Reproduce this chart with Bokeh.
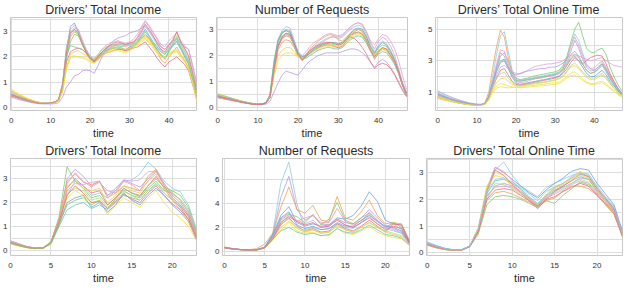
from bokeh.plotting import figure
from bokeh.layouts import column, row
from bokeh.models import SingleIntervalTicker, FixedTicker, Range1d
from bokeh.embed import file_html
from bokeh.resources import INLINE

t48 = list(range(48))
t24 = list(range(24))

# ---------------- Top-left: Drivers' Total Income (48 slots) ----------------
inc48_pink = [0.55,0.48,0.42,0.36,0.3,0.25,0.21,0.18,0.16,0.16,0.18,0.2,0.3,0.9,2.2,3.1,3.25,3.05,2.6,2.2,1.95,1.9,2.05,2.2,2.3,2.4,2.45,2.5,2.45,2.4,2.5,2.55,2.8,3.1,3.4,3.2,2.95,2.7,2.4,2.3,2.5,2.7,3.0,2.6,2.3,2.0,1.3,0.6]
inc48_blue = [0.5,0.44,0.38,0.33,0.28,0.24,0.2,0.17,0.15,0.15,0.17,0.19,0.28,0.8,2.3,3.2,3.35,3.0,2.55,2.25,2.0,1.85,2.0,2.15,2.25,2.3,2.35,2.4,2.35,2.3,2.4,2.45,2.6,2.85,3.1,2.85,2.6,2.4,2.2,2.1,2.3,2.45,2.6,2.3,2.0,1.7,1.1,0.7]
inc48_orange = [0.45,0.4,0.35,0.3,0.26,0.22,0.19,0.16,0.15,0.15,0.16,0.18,0.25,0.7,1.9,2.8,3.0,2.9,2.5,2.15,1.9,1.75,1.9,2.1,2.25,2.35,2.4,2.5,2.55,2.5,2.55,2.6,2.7,2.75,2.85,2.7,2.5,2.2,1.9,1.75,2.0,2.2,2.4,2.1,1.85,1.5,1.0,0.45]
inc48_yellow = [0.72,0.62,0.52,0.44,0.36,0.3,0.24,0.2,0.17,0.16,0.17,0.2,0.26,0.6,1.5,2.0,2.05,2.0,2.0,1.95,1.85,1.8,1.95,2.1,2.2,2.25,2.3,2.3,2.25,2.2,2.3,2.4,2.5,2.65,2.75,2.6,2.4,2.2,2.05,2.0,2.15,2.25,2.3,2.1,1.9,1.6,1.0,0.3]
inc48_purple = [0.4,0.35,0.3,0.26,0.22,0.19,0.16,0.14,0.13,0.13,0.13,0.14,0.18,0.4,0.8,1.0,1.25,1.3,1.45,1.48,1.45,1.35,1.65,2.0,2.3,2.5,2.65,2.75,2.8,2.85,2.95,3.0,3.05,3.15,3.25,3.05,2.8,2.6,2.4,2.3,2.5,2.65,2.7,2.55,2.4,2.3,1.7,1.0]
inc48_green = [0.5,0.45,0.39,0.34,0.29,0.25,0.21,0.18,0.16,0.16,0.18,0.21,0.3,0.85,2.0,2.6,2.9,2.85,2.5,2.2,1.95,1.8,1.95,2.1,2.2,2.3,2.35,2.35,2.3,2.25,2.35,2.4,2.55,2.75,2.9,2.75,2.5,2.3,2.05,1.95,2.25,2.5,2.75,2.4,2.1,1.8,1.2,0.55]
inc48_red = [0.45,0.4,0.35,0.3,0.26,0.22,0.19,0.16,0.15,0.15,0.17,0.2,0.28,0.75,1.8,2.2,2.3,2.35,2.3,2.15,1.95,1.8,1.9,2.05,2.15,2.2,2.25,2.3,2.3,2.25,2.3,2.35,2.4,2.5,2.6,2.4,2.2,1.95,1.75,1.6,1.8,1.9,2.0,1.85,1.7,1.45,0.9,0.4]
inc48_lblue = [0.6,0.53,0.46,0.39,0.33,0.28,0.23,0.19,0.17,0.16,0.17,0.19,0.27,0.8,2.1,2.9,3.1,3.0,2.6,2.3,2.05,1.95,2.05,2.2,2.3,2.35,2.45,2.5,2.5,2.45,2.5,2.55,2.65,2.95,3.2,3.0,2.75,2.5,2.25,2.15,2.35,2.55,2.8,2.5,2.2,1.85,1.3,0.85]
inc48_lav = [0.62,0.55,0.47,0.4,0.34,0.28,0.23,0.19,0.17,0.16,0.17,0.2,0.3,0.9,2.4,3.0,3.15,3.1,2.7,2.3,2.0,1.9,2.1,2.3,2.45,2.55,2.6,2.65,2.6,2.55,2.6,2.7,2.9,3.2,3.45,3.25,3.0,2.75,2.5,2.4,2.65,2.8,2.95,2.65,2.45,2.3,1.6,0.9]
inc48_gold = [0.65,0.56,0.48,0.4,0.33,0.27,0.22,0.18,0.16,0.15,0.16,0.19,0.25,0.65,1.6,2.1,2.2,2.25,2.15,2.05,1.9,1.85,2.0,2.15,2.2,2.3,2.35,2.4,2.35,2.3,2.35,2.45,2.55,2.7,2.8,2.65,2.45,2.25,2.1,2.0,2.1,2.2,2.25,2.05,1.85,1.55,0.95,0.35]
inc48_teal = [0.52,0.46,0.4,0.35,0.3,0.25,0.21,0.18,0.16,0.15,0.17,0.2,0.29,0.8,2.05,2.45,2.4,2.35,2.3,2.15,1.95,1.85,2.0,2.2,2.35,2.45,2.5,2.45,2.4,2.5,2.45,2.5,2.6,2.8,3.0,2.8,2.55,2.3,2.1,1.9,2.2,2.45,2.65,2.35,2.05,1.75,1.15,0.6]
inc48_lgreen = [0.48,0.43,0.37,0.32,0.27,0.23,0.2,0.17,0.15,0.15,0.17,0.2,0.3,0.95,2.3,2.95,3.05,2.9,2.55,2.25,2.0,1.9,2.1,2.3,2.4,2.45,2.5,2.55,2.5,2.45,2.45,2.5,2.6,2.8,3.0,2.8,2.55,2.35,2.2,2.1,2.35,2.6,2.85,2.5,2.2,1.9,1.25,0.65]
inc48_yellow2 = [0.68,0.58,0.5,0.42,0.35,0.29,0.23,0.19,0.16,0.15,0.16,0.19,0.25,0.62,1.55,1.95,2.0,2.0,1.95,1.9,1.8,1.75,1.9,2.05,2.15,2.2,2.25,2.25,2.2,2.15,2.25,2.35,2.45,2.6,2.7,2.55,2.35,2.15,2.0,1.95,2.05,2.15,2.2,2.0,1.8,1.5,0.95,0.25]
inc48_red2 = [0.5,0.44,0.38,0.33,0.28,0.24,0.2,0.17,0.15,0.15,0.17,0.2,0.3,0.9,2.2,2.95,3.1,2.95,2.55,2.2,1.95,1.85,2.0,2.2,2.35,2.45,2.55,2.6,2.55,2.5,2.55,2.6,2.75,3.0,3.3,3.1,2.85,2.55,2.3,2.2,2.45,2.65,3.0,2.6,2.35,2.05,1.4,0.7]

# ---------------- Top-middle: Number of Requests (48 slots) ----------------
req48_blue = [0.5,0.46,0.42,0.38,0.34,0.3,0.26,0.22,0.19,0.16,0.14,0.15,0.2,0.45,1.6,2.6,2.95,3.1,3.05,2.6,2.15,1.95,2.05,2.2,2.35,2.45,2.55,2.65,2.7,2.7,2.65,2.7,2.85,3.0,3.1,3.15,3.1,2.8,2.45,2.15,2.4,2.55,2.45,2.2,1.85,1.4,0.9,0.55]
req48_pink = [0.45,0.42,0.38,0.35,0.31,0.27,0.23,0.2,0.17,0.15,0.14,0.15,0.19,0.4,1.5,2.5,2.85,3.0,2.95,2.5,2.05,1.9,2.0,2.15,2.3,2.4,2.5,2.6,2.7,2.75,2.7,2.75,2.9,3.05,3.2,3.25,3.2,2.9,2.5,2.25,2.55,2.7,2.6,2.35,2.0,1.5,0.95,0.6]
req48_yellow = [0.55,0.5,0.45,0.4,0.35,0.3,0.26,0.22,0.18,0.16,0.14,0.15,0.19,0.38,1.2,1.8,2.0,2.1,2.1,2.05,1.95,1.9,1.95,2.05,2.15,2.2,2.3,2.35,2.35,2.3,2.3,2.35,2.5,2.65,2.75,2.8,2.75,2.5,2.2,1.95,2.15,2.25,2.15,1.95,1.7,1.3,0.85,0.5]
req48_purple = [0.38,0.35,0.32,0.29,0.26,0.23,0.2,0.17,0.15,0.13,0.12,0.12,0.14,0.25,0.6,0.95,1.25,1.4,1.35,1.3,1.25,1.45,1.65,1.8,1.9,2.0,2.05,2.1,2.1,2.1,2.1,2.15,2.2,2.25,2.25,2.2,2.1,1.95,1.75,1.55,1.75,1.85,1.75,1.55,1.3,1.0,0.7,0.45]
req48_red = [0.42,0.39,0.35,0.32,0.28,0.25,0.22,0.19,0.16,0.14,0.13,0.14,0.18,0.4,1.4,2.3,2.65,2.75,2.7,2.4,2.0,1.8,1.95,2.1,2.2,2.3,2.35,2.4,2.4,2.35,2.3,2.35,2.55,2.7,2.65,2.5,2.3,2.05,1.75,1.5,1.65,1.7,1.65,1.5,1.25,0.95,0.65,0.42]
req48_green = [0.48,0.44,0.4,0.36,0.32,0.28,0.24,0.21,0.18,0.15,0.14,0.15,0.2,0.5,1.8,2.6,2.9,2.95,2.85,2.45,2.05,1.9,1.95,2.1,2.2,2.3,2.4,2.45,2.45,2.4,2.4,2.45,2.6,2.8,2.9,3.0,2.95,2.7,2.3,2.05,2.3,2.4,2.35,2.1,1.8,1.35,0.85,0.5]
req48_orange = [0.4,0.37,0.34,0.31,0.28,0.25,0.22,0.19,0.16,0.14,0.13,0.14,0.18,0.42,1.4,2.2,2.5,2.6,2.55,2.3,2.0,1.85,2.05,2.25,2.4,2.55,2.65,2.75,2.8,2.75,2.6,2.55,2.7,2.85,2.95,3.0,2.9,2.6,2.25,1.85,2.1,2.25,2.2,2.0,1.7,1.3,0.85,0.45]
req48_teal = [0.52,0.48,0.43,0.39,0.34,0.3,0.26,0.22,0.19,0.16,0.14,0.15,0.2,0.45,1.65,2.4,2.7,2.8,2.75,2.35,2.0,1.85,1.9,2.0,2.1,2.2,2.25,2.3,2.3,2.25,2.25,2.3,2.45,2.6,2.7,2.75,2.7,2.45,2.15,1.9,2.05,2.15,2.1,1.9,1.65,1.3,0.85,0.55]
req48_lav = [0.44,0.41,0.37,0.34,0.3,0.26,0.23,0.2,0.17,0.15,0.14,0.15,0.19,0.42,1.5,2.35,2.7,2.85,2.8,2.45,2.1,2.0,2.15,2.35,2.5,2.6,2.7,2.8,2.85,2.8,2.75,2.8,2.95,3.1,3.2,3.25,3.15,2.9,2.55,2.4,2.65,2.8,2.75,2.55,2.25,1.8,1.2,0.7]
req48_lgreen = [0.47,0.43,0.39,0.35,0.31,0.27,0.24,0.21,0.18,0.15,0.14,0.15,0.2,0.5,1.75,2.5,2.75,2.85,2.8,2.4,2.0,1.9,2.0,2.15,2.25,2.35,2.45,2.5,2.5,2.45,2.45,2.5,2.65,2.8,2.85,2.9,2.85,2.6,2.2,2.0,2.2,2.3,2.25,2.05,1.75,1.35,0.85,0.5]
req48_gold = [0.5,0.46,0.41,0.37,0.33,0.29,0.25,0.21,0.18,0.15,0.14,0.15,0.19,0.42,1.35,2.0,2.2,2.3,2.3,2.15,1.95,1.9,2.0,2.1,2.2,2.25,2.35,2.4,2.4,2.35,2.35,2.4,2.55,2.7,2.8,2.85,2.8,2.55,2.25,2.0,2.2,2.3,2.2,2.0,1.75,1.35,0.9,0.55]
req48_lblue2 = [0.46,0.42,0.38,0.35,0.31,0.27,0.23,0.2,0.17,0.15,0.14,0.15,0.2,0.48,1.7,2.55,2.85,2.95,2.9,2.5,2.1,1.95,2.0,2.1,2.25,2.35,2.4,2.45,2.5,2.5,2.45,2.5,2.65,2.85,3.0,3.05,3.0,2.7,2.35,2.1,2.35,2.5,2.4,2.15,1.85,1.4,0.9,0.55]
req48_red2 = [0.43,0.4,0.36,0.33,0.29,0.26,0.22,0.19,0.16,0.14,0.13,0.14,0.18,0.4,1.45,2.35,2.7,2.85,2.8,2.45,2.05,1.85,2.0,2.2,2.3,2.4,2.45,2.5,2.5,2.45,2.4,2.45,2.6,2.75,2.85,2.9,2.8,2.55,2.2,1.95,2.15,2.3,2.25,2.0,1.75,1.35,0.85,0.48]

# ---------------- Top-right: Drivers' Total Online Time (48 slots) ----------------
onl48_green = [0.9,0.8,0.7,0.6,0.52,0.45,0.38,0.32,0.27,0.23,0.21,0.21,0.28,0.7,1.6,2.5,3.3,3.5,3.0,2.3,1.9,1.8,1.85,1.9,2.0,2.05,2.1,2.15,2.2,2.25,2.3,2.4,2.7,3.3,4.2,5.0,5.45,4.6,3.8,3.55,3.5,3.7,3.8,3.4,2.6,2.0,1.5,1.1]
onl48_orange = [0.75,0.67,0.58,0.5,0.43,0.37,0.31,0.26,0.22,0.2,0.19,0.2,0.3,1.0,2.5,3.9,4.95,4.5,3.2,2.2,1.8,1.7,1.75,1.8,1.85,1.9,1.9,1.95,2.0,2.05,2.1,2.2,2.4,2.8,3.2,3.4,3.2,2.8,2.4,2.2,2.3,2.5,2.8,2.4,1.9,1.5,1.1,0.8]
onl48_lblue = [1.1,0.97,0.85,0.74,0.64,0.55,0.47,0.4,0.33,0.28,0.24,0.23,0.3,0.8,2.0,3.4,4.6,4.85,3.6,2.4,1.9,1.75,1.8,1.85,1.9,1.95,2.0,2.05,2.1,2.15,2.2,2.3,2.6,3.2,4.0,4.7,4.3,3.5,2.8,2.5,2.4,2.6,2.9,2.5,2.0,1.6,1.2,1.0]
onl48_purple = [1.05,0.93,0.82,0.72,0.62,0.53,0.45,0.38,0.32,0.27,0.24,0.23,0.28,0.65,1.4,2.1,2.6,2.7,2.5,2.3,2.2,2.15,2.25,2.4,2.55,2.65,2.7,2.75,2.8,2.8,2.85,2.9,3.0,3.2,3.35,3.4,3.3,3.2,3.1,3.0,3.05,3.15,3.2,3.0,2.85,2.7,2.65,2.6]
onl48_yellow = [0.7,0.62,0.54,0.47,0.41,0.35,0.3,0.25,0.21,0.19,0.18,0.18,0.22,0.5,1.0,1.25,1.35,1.3,1.28,1.3,1.3,1.28,1.3,1.32,1.35,1.38,1.4,1.42,1.45,1.48,1.5,1.55,1.7,1.9,2.05,2.1,1.95,1.75,1.6,1.5,1.5,1.55,1.6,1.45,1.25,1.05,0.85,0.7]
onl48_pink = [0.8,0.71,0.62,0.54,0.47,0.4,0.34,0.29,0.25,0.22,0.2,0.2,0.27,0.75,1.7,2.8,3.7,3.6,2.8,2.1,1.7,1.6,1.65,1.7,1.8,1.85,1.9,1.95,2.0,2.05,2.1,2.2,2.5,3.1,3.9,4.5,4.0,3.3,2.7,2.5,2.55,2.8,3.0,2.6,2.1,1.7,1.3,0.95]
onl48_red = [0.65,0.58,0.51,0.45,0.39,0.34,0.29,0.25,0.22,0.2,0.19,0.19,0.25,0.6,1.3,1.9,2.4,2.5,2.1,1.7,1.5,1.45,1.5,1.55,1.6,1.65,1.7,1.75,1.8,1.85,1.9,2.0,2.2,2.5,2.9,3.2,3.0,2.8,3.0,3.2,3.3,3.35,3.3,2.8,2.2,1.7,1.25,0.9]
onl48_blue = [0.85,0.75,0.66,0.58,0.5,0.43,0.37,0.31,0.27,0.23,0.21,0.21,0.27,0.7,1.5,2.3,2.9,3.0,2.5,1.95,1.6,1.5,1.55,1.6,1.65,1.7,1.75,1.8,1.85,1.9,1.95,2.05,2.3,2.7,3.1,3.3,3.0,2.6,2.2,2.0,2.0,2.2,2.4,2.1,1.7,1.4,1.1,0.85]
onl48_gold = [0.6,0.54,0.48,0.42,0.37,0.32,0.28,0.24,0.21,0.19,0.18,0.19,0.24,0.55,1.15,1.6,1.85,1.9,1.7,1.5,1.4,1.38,1.42,1.45,1.5,1.55,1.58,1.62,1.65,1.7,1.75,1.85,2.0,2.3,2.6,2.7,2.5,2.2,1.95,1.8,1.8,1.95,2.1,1.85,1.55,1.25,0.95,0.75]
onl48_teal = [0.95,0.84,0.74,0.64,0.55,0.47,0.4,0.34,0.29,0.25,0.22,0.22,0.28,0.7,1.6,2.4,3.0,3.1,2.6,2.0,1.75,1.7,1.75,1.8,1.85,1.9,1.95,2.0,2.05,2.1,2.15,2.25,2.5,2.9,3.4,3.6,3.3,2.8,2.4,2.2,2.25,2.45,2.7,2.3,1.85,1.5,1.15,0.9]
onl48_lgreen = [0.72,0.64,0.56,0.49,0.42,0.36,0.31,0.26,0.22,0.2,0.19,0.19,0.25,0.6,1.3,1.85,2.2,2.25,1.9,1.6,1.45,1.42,1.45,1.5,1.55,1.6,1.62,1.65,1.7,1.75,1.8,1.9,2.05,2.35,2.7,2.85,2.6,2.3,2.05,1.9,1.9,2.05,2.2,1.95,1.6,1.3,1.0,0.78]
onl48_yellow2 = [0.68,0.6,0.52,0.46,0.4,0.34,0.29,0.24,0.21,0.19,0.18,0.18,0.22,0.5,1.05,1.4,1.55,1.5,1.4,1.35,1.32,1.3,1.35,1.4,1.42,1.45,1.5,1.5,1.55,1.58,1.6,1.65,1.8,2.0,2.2,2.3,2.1,1.85,1.65,1.55,1.55,1.65,1.7,1.55,1.3,1.1,0.88,0.72]
onl48_lav2 = [0.88,0.78,0.69,0.6,0.52,0.45,0.38,0.32,0.27,0.24,0.21,0.21,0.27,0.7,1.55,2.6,3.5,3.3,2.6,2.2,2.1,2.2,2.3,2.35,2.4,2.45,2.5,2.5,2.55,2.6,2.6,2.7,2.85,3.1,3.6,4.3,3.8,3.1,2.6,2.35,2.4,2.6,2.8,2.45,2.0,1.6,1.25,0.95]

# ---------------- Bottom-left: Drivers' Total Income (24 hours) ----------------
inc24_blue = [0.35,0.25,0.15,0.1,0.1,0.3,1.1,2.3,2.9,2.7,2.3,2.4,2.2,2.5,2.9,2.95,3.2,3.7,3.4,2.9,2.6,2.45,1.9,0.9]
inc24_green = [0.3,0.2,0.12,0.08,0.1,0.35,1.4,3.5,2.9,2.6,2.2,2.3,1.9,2.2,2.5,2.3,2.2,2.6,2.9,2.5,2.4,2.1,1.6,0.7]
inc24_purple = [0.4,0.28,0.16,0.1,0.1,0.3,1.2,3.0,3.4,3.1,2.7,2.9,2.3,2.6,2.95,2.8,2.65,3.0,3.35,2.8,2.3,2.0,1.5,0.6]
inc24_orange = [0.3,0.2,0.12,0.07,0.08,0.35,1.3,2.9,3.2,2.85,2.75,2.9,2.2,2.4,2.7,2.6,2.5,3.1,3.4,2.7,2.2,1.9,1.4,0.65]
inc24_yellow = [0.25,0.17,0.1,0.06,0.07,0.25,1.0,2.2,2.5,2.3,2.0,2.1,1.5,1.9,2.2,2.0,1.8,2.2,2.5,2.0,1.6,1.35,1.0,0.4]
inc24_red = [0.3,0.2,0.12,0.07,0.08,0.3,1.15,2.6,3.0,2.7,2.4,2.5,1.9,2.2,2.6,2.4,2.3,2.7,3.1,2.6,2.1,1.8,1.3,0.55]
inc24_teal = [0.3,0.2,0.12,0.08,0.09,0.3,1.0,1.7,1.9,2.0,1.75,1.9,1.7,2.0,2.3,2.2,2.1,2.5,2.8,2.4,2.1,1.85,1.45,0.6]
inc24_lgreen = [0.35,0.24,0.14,0.09,0.1,0.32,1.25,2.4,2.6,2.5,2.1,2.2,1.8,2.1,2.45,2.3,2.1,2.5,2.75,2.55,2.45,2.1,1.6,0.75]
inc24_pink = [0.38,0.27,0.16,0.1,0.1,0.33,1.3,2.8,3.25,2.9,2.65,2.85,2.5,2.4,2.9,2.75,2.5,2.9,3.3,2.7,2.2,1.9,1.5,0.6]
inc24_lblue = [0.32,0.22,0.13,0.08,0.09,0.28,1.1,2.0,2.2,2.3,1.8,2.0,1.6,1.9,2.4,2.1,1.9,2.3,2.6,2.3,1.9,1.6,1.2,0.45]
inc24_gold = [0.3,0.2,0.12,0.07,0.08,0.3,1.2,2.7,2.9,2.6,2.5,2.6,2.0,2.3,2.7,2.5,2.4,2.9,3.2,2.6,2.1,1.7,1.2,0.5]
inc24_lav = [0.36,0.25,0.15,0.09,0.1,0.3,1.15,2.5,2.8,2.75,2.85,2.9,2.3,2.5,2.95,2.9,2.95,3.3,3.3,2.8,2.35,2.15,1.7,0.7]
inc24_red2 = [0.32,0.22,0.13,0.08,0.09,0.32,1.2,2.3,2.7,2.4,2.0,2.05,1.75,2.05,2.35,2.15,2.0,2.4,2.7,2.3,1.95,1.7,1.3,0.5]
inc24_green2 = [0.33,0.23,0.13,0.08,0.09,0.3,1.1,1.9,2.1,2.2,1.9,2.1,1.75,2.15,2.6,2.4,2.25,2.7,3.0,2.65,2.5,2.3,1.8,0.8]

# ---------------- Bottom-middle: Number of Requests (24 hours) ----------------
req24_lblue = [0.3,0.2,0.13,0.1,0.12,0.3,1.5,5.7,7.5,4.0,1.8,2.0,1.8,1.9,2.3,2.0,1.9,2.4,2.9,2.3,1.9,1.7,1.5,0.6]
req24_purple = [0.3,0.2,0.12,0.1,0.11,0.3,1.3,4.5,6.3,3.5,2.6,3.0,2.3,2.2,2.7,2.4,2.3,2.8,3.5,2.8,2.2,1.9,1.6,0.65]
req24_orange = [0.35,0.22,0.14,0.12,0.2,0.6,1.5,3.7,5.4,3.5,3.2,3.85,2.6,2.5,4.6,2.8,2.6,3.3,4.3,3.0,2.3,2.4,2.3,0.9]
req24_blue = [0.3,0.2,0.13,0.1,0.12,0.35,1.4,3.0,3.75,2.4,2.1,2.3,2.1,2.2,2.8,2.7,3.0,3.8,5.0,4.2,2.6,2.3,2.2,0.8]
req24_green = [0.28,0.18,0.12,0.09,0.1,0.3,1.1,2.6,3.1,2.9,2.4,3.1,2.2,2.7,4.1,2.6,2.3,2.8,3.2,2.6,2.0,2.4,2.0,0.7]
req24_pink = [0.3,0.2,0.13,0.1,0.11,0.3,1.2,2.7,3.2,2.5,2.8,3.0,2.4,2.4,3.6,2.5,2.2,2.6,3.1,2.5,2.0,2.3,1.8,0.7]
req24_yellow = [0.25,0.17,0.11,0.08,0.09,0.25,0.9,1.8,2.4,1.7,1.5,1.6,1.3,1.3,1.9,1.5,1.4,1.7,2.1,1.6,1.3,1.15,1.05,0.45]
req24_red = [0.28,0.18,0.12,0.09,0.1,0.28,1.0,2.2,2.8,2.1,1.7,1.9,1.6,1.7,2.3,1.9,1.7,2.1,2.6,2.1,1.6,2.3,2.2,0.75]
req24_teal = [0.27,0.18,0.12,0.09,0.1,0.27,1.0,1.7,2.0,1.6,1.4,1.5,1.3,1.4,1.9,1.6,1.5,1.8,2.2,1.8,1.4,1.3,1.1,0.5]
req24_lgreen = [0.3,0.19,0.12,0.09,0.1,0.3,1.15,2.3,2.7,1.9,1.6,1.8,1.5,1.6,2.1,1.8,1.6,2.0,2.4,2.0,1.7,1.5,1.3,0.55]
req24_gold = [0.28,0.18,0.12,0.09,0.1,0.28,1.0,2.0,2.5,2.0,1.7,1.8,1.5,1.6,2.2,1.8,1.6,2.0,2.4,2.0,1.6,1.4,1.2,0.5]
req24_lav = [0.3,0.2,0.13,0.1,0.11,0.3,1.2,2.4,3.0,2.6,2.3,2.6,2.0,2.1,2.7,2.2,2.0,2.4,3.3,2.6,2.0,1.8,1.5,0.6]
req24_blue2 = [0.3,0.2,0.13,0.1,0.12,0.32,1.3,2.8,3.3,2.2,1.9,2.1,1.8,1.9,2.4,2.1,2.1,2.6,3.0,2.5,2.1,2.0,1.7,0.65]
req24_red2 = [0.28,0.18,0.12,0.09,0.1,0.28,1.05,2.4,2.9,2.5,2.2,2.4,2.0,2.1,2.6,2.2,2.0,2.4,2.8,2.3,1.8,2.1,1.9,0.7]

# ---------------- Bottom-right: Drivers' Total Online Time (24 hours) ----------------
onl24_lblue = [0.35,0.25,0.16,0.11,0.11,0.25,0.85,2.2,3.1,3.4,2.9,2.5,2.3,2.1,2.45,2.6,2.75,2.9,3.0,2.95,2.5,2.1,1.75,0.75]
onl24_blue = [0.4,0.28,0.18,0.12,0.12,0.25,0.9,2.4,3.2,3.0,2.75,2.5,2.25,2.05,2.35,2.6,2.8,3.05,3.15,3.1,2.6,2.2,1.8,0.8]
onl24_pink = [0.35,0.24,0.15,0.1,0.1,0.25,0.8,2.3,3.2,3.05,2.7,2.35,2.05,1.7,2.15,2.45,2.6,2.85,3.0,2.85,2.35,2.0,1.6,0.7]
onl24_yellow = [0.3,0.2,0.13,0.09,0.1,0.25,0.95,2.5,3.0,2.9,2.6,2.3,2.0,1.75,2.2,2.5,2.6,2.8,3.05,2.9,2.4,1.95,1.55,0.65]
onl24_green = [0.28,0.19,0.12,0.09,0.09,0.22,0.7,1.8,2.1,2.15,2.1,2.0,1.85,1.7,1.95,1.85,2.15,2.4,2.65,2.55,2.2,1.8,1.45,0.6]
onl24_orange = [0.3,0.2,0.13,0.09,0.1,0.25,0.75,1.95,2.25,2.3,2.2,2.05,1.9,1.75,1.95,2.05,2.3,2.5,2.5,2.4,2.15,1.8,1.45,0.6]
onl24_purple = [0.33,0.22,0.14,0.1,0.1,0.24,0.8,2.1,2.5,2.6,2.5,2.3,2.05,1.8,2.1,2.3,2.45,2.6,2.8,2.75,2.3,1.95,1.6,0.7]
onl24_teal = [0.34,0.24,0.15,0.1,0.1,0.24,0.85,2.2,2.7,2.75,2.6,2.4,2.1,1.85,2.15,2.35,2.5,2.7,2.85,2.75,2.35,2.0,1.65,0.7]
onl24_red = [0.32,0.21,0.14,0.1,0.1,0.25,0.85,2.3,3.1,2.9,2.55,2.25,1.95,1.65,2.0,2.3,2.5,2.7,2.95,2.85,2.4,2.05,1.65,0.7]
onl24_lgreen = [0.3,0.2,0.13,0.09,0.1,0.26,0.9,2.0,2.6,2.55,2.4,2.2,2.0,1.8,2.05,2.25,2.4,2.6,2.75,2.65,2.25,1.9,1.5,0.65]
onl24_gold = [0.3,0.2,0.13,0.09,0.1,0.26,0.9,2.4,2.9,2.8,2.5,2.25,2.0,1.8,2.15,2.4,2.55,2.75,2.9,2.8,2.35,1.95,1.55,0.65]
onl24_lav = [0.33,0.23,0.14,0.1,0.1,0.25,0.85,2.15,2.45,2.5,2.45,2.25,2.0,1.8,2.05,2.2,2.35,2.55,2.7,2.6,2.25,1.9,1.55,0.65]
onl24_red2 = [0.31,0.21,0.14,0.1,0.1,0.24,0.8,2.0,2.35,2.4,2.35,2.15,1.95,1.75,2.0,2.1,2.3,2.45,2.6,2.5,2.15,1.85,1.5,0.62]
onl24_lblue2 = [0.37,0.26,0.17,0.11,0.11,0.26,0.9,2.3,2.75,2.8,2.65,2.45,2.2,1.95,2.3,2.45,2.6,2.8,2.95,2.9,2.45,2.05,1.7,0.72]

PINK = "#f39ab4"; RED = "#e9707c"; ORANGE = "#efa253"; YELLOW = "#f2e240"
GREEN = "#7cc96b"; LGREEN = "#b5dc72"; TEAL = "#6cc7b8"; LBLUE = "#8ccbe9"
BLUE = "#6ea3dd"; PURPLE = "#b89be3"; LAV = "#dca3dc"; GOLD = "#f0cd55"

FONT = "Liberation Sans"


def panel(title, x, series, xr, yr, xstep, yticks, ygrid_step, width, height,
          left, right, top, bottom):
    p = figure(width=width, height=height, output_backend="svg", toolbar_location=None,
               x_range=Range1d(*xr), y_range=Range1d(*yr),
               min_border_left=left, min_border_right=right,
               min_border_top=top, min_border_bottom=bottom)
    p.title.text = title
    p.title.align = "center"
    p.title.text_font = FONT
    p.title.text_font_size = "12.5px"
    p.title.text_font_style = "normal"
    p.title.text_color = "#2a2a2a"
    p.title.standoff = 1
    for ys, col in series:
        p.line(x, ys, line_color=col, line_width=1, line_alpha=0.8)
    p.xaxis.ticker = SingleIntervalTicker(interval=xstep)
    p.yaxis.ticker = FixedTicker(ticks=yticks)
    p.xgrid.ticker = SingleIntervalTicker(interval=xstep)
    p.ygrid.ticker = SingleIntervalTicker(interval=ygrid_step)
    p.xaxis.axis_label = "time"
    for ax in (p.xaxis[0], p.yaxis[0]):
        ax.axis_line_color = None
        ax.major_tick_line_color = None
        ax.minor_tick_line_color = None
        ax.major_tick_out = 0
        ax.major_tick_in = 0
        ax.major_label_text_font = FONT
        ax.major_label_text_font_size = "8px"
        ax.major_label_text_color = "#333333"
        ax.major_label_standoff = 3
    p.xaxis.axis_label_text_font = FONT
    p.xaxis.axis_label_text_font_size = "11px"
    p.xaxis.axis_label_text_font_style = "normal"
    p.xaxis.axis_label_text_color = "#2a2a2a"
    p.xaxis.axis_label_standoff = 1
    p.xgrid.grid_line_color = "#dddddd"
    p.ygrid.grid_line_color = "#dddddd"
    p.outline_line_color = "#c8c8c8"
    p.outline_line_width = 1
    p.background_fill_color = "white"
    p.border_fill_color = "white"
    return p


p1 = panel("Drivers’ Total Income", t48,
           [(inc48_pink, PINK), (inc48_blue, BLUE), (inc48_orange, ORANGE), (inc48_yellow, YELLOW),
            (inc48_purple, PURPLE), (inc48_green, GREEN), (inc48_red, RED), (inc48_lblue, LBLUE),
            (inc48_lav, LAV), (inc48_gold, GOLD), (inc48_teal, TEAL), (inc48_lgreen, LGREEN),
            (inc48_yellow2, YELLOW), (inc48_red2, RED)],
           (-0.2, 47), (-0.13, 3.57), 10, [0, 1, 2, 3], 0.5, 206, 141, 10, 10, 0, 0)
p2 = panel("Number of Requests", t48,
           [(req48_blue, LBLUE), (req48_pink, PINK), (req48_yellow, YELLOW), (req48_purple, PURPLE),
            (req48_red, RED), (req48_green, GREEN), (req48_orange, ORANGE), (req48_teal, TEAL),
            (req48_lav, LAV), (req48_lgreen, LGREEN), (req48_gold, GOLD), (req48_lblue2, BLUE),
            (req48_red2, RED)],
           (-0.3, 47.2), (-0.1, 3.45), 10, [0, 1, 2, 3], 0.5, 211, 141, 9, 10, 0, 0)
p3 = panel("Drivers’ Total Online Time", t48,
           [(onl48_green, GREEN), (onl48_orange, ORANGE), (onl48_lblue, LBLUE), (onl48_purple, LAV),
            (onl48_yellow, YELLOW), (onl48_pink, PINK), (onl48_red, RED), (onl48_blue, BLUE),
            (onl48_gold, GOLD), (onl48_teal, TEAL), (onl48_lgreen, LGREEN), (onl48_yellow2, YELLOW),
            (onl48_lav2, PURPLE)],
           (-0.6, 47.2), (-0.16, 5.75), 10, [1, 3, 5], 1, 207, 141, 18, 2, 0, 0)
p4 = panel("Drivers’ Total Income", t24,
           [(inc24_blue, LBLUE), (inc24_green, GREEN), (inc24_purple, PURPLE), (inc24_orange, ORANGE),
            (inc24_yellow, YELLOW), (inc24_red, RED), (inc24_teal, TEAL), (inc24_lgreen, LGREEN),
            (inc24_pink, PINK), (inc24_lblue, BLUE), (inc24_gold, GOLD), (inc24_lav, LAV),
            (inc24_red2, RED), (inc24_green2, GREEN)],
           (0, 23), (-0.22, 3.85), 5, [0, 1, 2, 3], 0.5, 210, 145, 10, 14, 0, 0)
p5 = panel("Number of Requests", t24,
           [(req24_lblue, LBLUE), (req24_purple, PURPLE), (req24_orange, ORANGE), (req24_blue, BLUE),
            (req24_green, GREEN), (req24_pink, PINK), (req24_yellow, YELLOW), (req24_red, RED),
            (req24_teal, TEAL), (req24_lgreen, LGREEN), (req24_gold, GOLD), (req24_lav, LAV),
            (req24_blue2, BLUE), (req24_red2, RED)],
           (-0.25, 23), (-0.37, 7.8), 5, [0, 2, 4, 6], 2, 206, 145, 12, 7, 0, 0)
p6 = panel("Drivers’ Total Online Time", t24,
           [(onl24_lblue, LBLUE), (onl24_blue, BLUE), (onl24_pink, PINK), (onl24_yellow, YELLOW),
            (onl24_green, GREEN), (onl24_orange, ORANGE), (onl24_purple, PURPLE), (onl24_teal, TEAL),
            (onl24_red, RED), (onl24_lgreen, LGREEN), (onl24_gold, GOLD), (onl24_lav, LAV),
            (onl24_red2, RED), (onl24_lblue2, LBLUE)],
           (-0.1, 23), (-0.1, 3.53), 5, [0, 1, 2, 3], 0.5, 208, 145, 9, 2, 0, 0)

layout = column(row(p1, p2, p3, spacing=0), row(p4, p5, p6, spacing=0), spacing=0)

open("out.html", "w").write(file_html(layout, INLINE))
